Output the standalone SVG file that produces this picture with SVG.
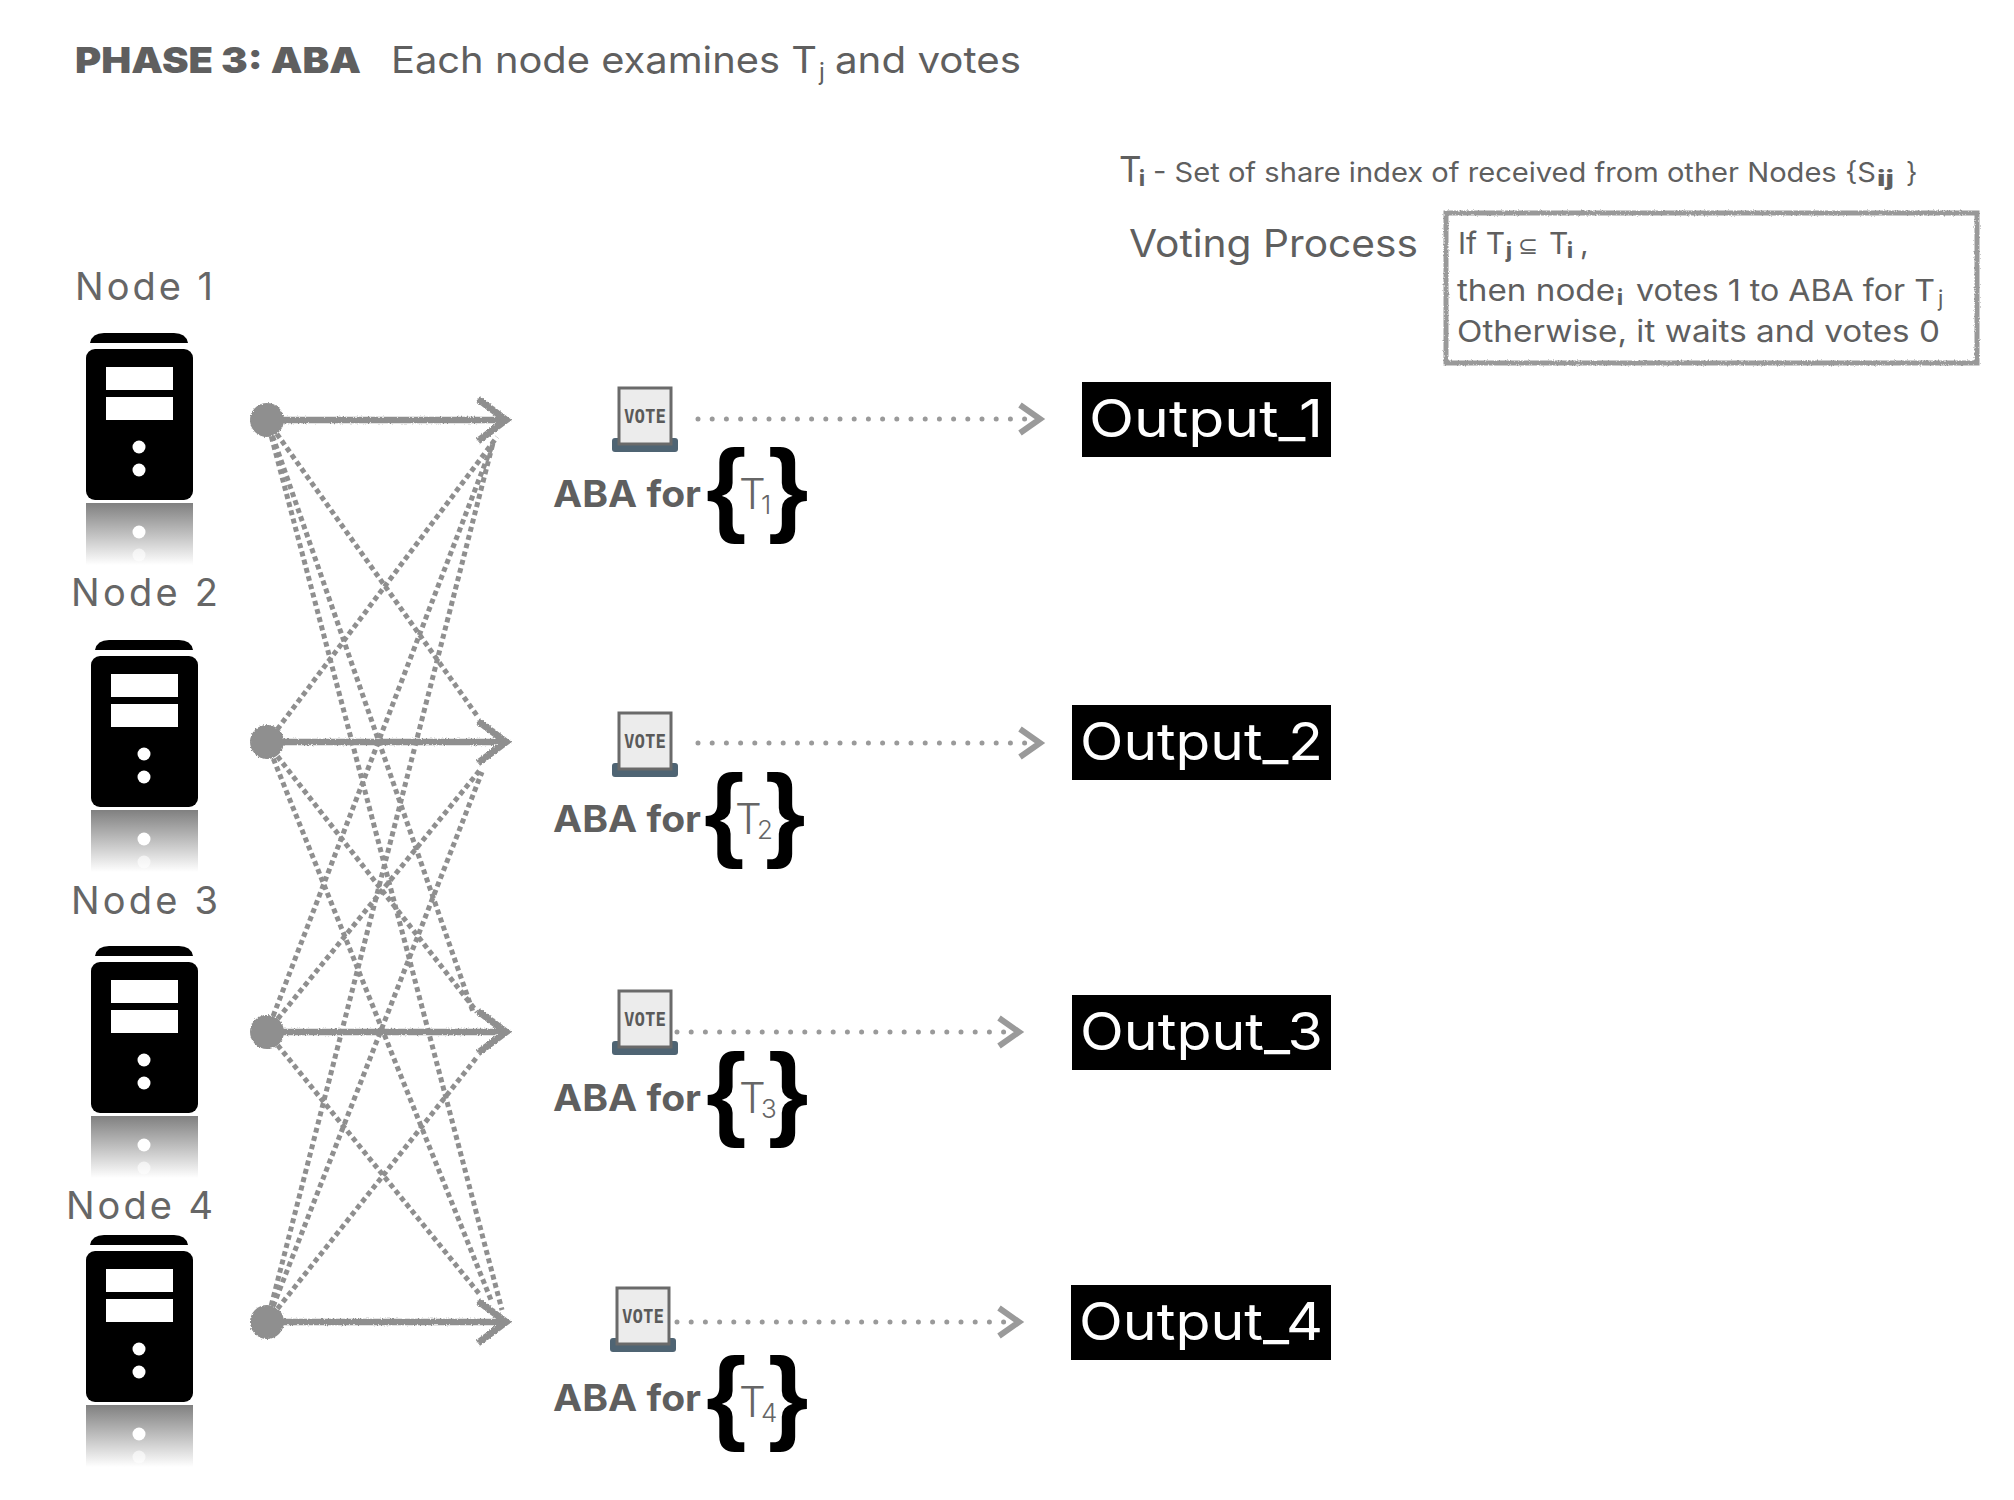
<svg xmlns="http://www.w3.org/2000/svg" width="2014" height="1500" viewBox="0 0 2014 1500">
<style>
text{font-family:"Inter","Liberation Sans",sans-serif;fill:#5f5f5f}
.nl{font-size:38px;fill:#666}
.aba{font-family:"Inter","Liberation Sans",sans-serif;font-size:37px;font-weight:700;fill:#5f5f5f}
.br{font-family:"Liberation Sans",sans-serif;font-size:104px;font-weight:700;fill:#000}
.tt{font-size:42px;fill:#666;font-weight:300}
.ts{font-size:26px;fill:#666;font-weight:300}
.out{font-size:52px;fill:#fff}
.bx{font-size:30px}
.sb{font-size:21px;font-weight:800}
.sl{font-size:22px}
.d{fill:none;stroke:#8f8f8f;stroke-width:5;stroke-dasharray:5 3.5}
.s{fill:none;stroke:#8f8f8f;stroke-width:6.5;filter:url(#rough)}
.hd{fill:none;stroke:#8f8f8f;stroke-width:7;filter:url(#rough)}
.o{fill:none;stroke:#9a9a9a;stroke-width:5;stroke-dasharray:0 14.2;stroke-linecap:round}
.h{fill:none;stroke:#9a9a9a;stroke-width:6}
.dot{fill:#8f8f8f;filter:url(#rough)}
</style>
<defs>
<filter id="rough" x="0" y="0" width="2014" height="1500" filterUnits="userSpaceOnUse">
<feTurbulence type="fractalNoise" baseFrequency="0.7" numOctaves="2" seed="3"/>
<feDisplacementMap in="SourceGraphic" scale="3" xChannelSelector="R" yChannelSelector="G"/>
</filter>
<linearGradient id="refl" x1="0" y1="0" x2="0" y2="1"><stop offset="0" stop-color="#808080"/><stop offset="1" stop-color="#fff"/></linearGradient>
<g id="server">
<path d="M90 343q2-10 14-10h70q12 0 14 10z" fill="#000"/>
<rect x="86" y="349" width="107" height="151" rx="9" fill="#000"/>
<rect x="106" y="367" width="67" height="23" fill="#fff"/>
<rect x="106" y="397" width="67" height="23" fill="#fff"/>
<circle cx="139" cy="447" r="6.5" fill="#fff"/>
<circle cx="139" cy="470" r="6.5" fill="#fff"/>
<rect x="86" y="503" width="107" height="62" fill="url(#refl)"/>
<circle cx="139" cy="532" r="6.5" fill="#fff"/>
<circle cx="139" cy="555" r="6.5" fill="#fff" opacity=".6"/>
</g>
<g id="vote">
<rect x="612" y="438" width="66" height="14" rx="3" fill="#4f6473"/>
<rect x="619" y="388" width="52" height="56" fill="#ececec" stroke="#6a6a6a" stroke-width="3"/>
<text x="624" y="423" textLength="42" lengthAdjust="spacingAndGlyphs" style="font-family:'DejaVu Sans Mono',monospace;font-size:19px;font-weight:700;fill:#5a5a5a">VOTE</text>
</g>
<path id="head" d="M478 399L506 420L478 441"/>
<path id="shd" d="M-20-14L0 0L-20 14"/>
</defs>
<rect width="2014" height="1500" fill="#fff"/>

<g id="title">
<text x="75" y="73" textLength="286" lengthAdjust="spacingAndGlyphs" style="font-size:36px;font-weight:900">PHASE 3: ABA</text>
<text x="391" y="73" textLength="426" lengthAdjust="spacingAndGlyphs" style="font-size:37px">Each node examines T</text>
<text x="819" y="80" style="font-size:24px">j</text>
<text x="835" y="73" textLength="186" lengthAdjust="spacingAndGlyphs" style="font-size:37px">and votes</text>
</g>

<g id="connectors">
<g id="cross">
<path class="d" d="M267 420L478 717"/>
<path class="d" d="M267 420L473 1012"/>
<path class="d" d="M267 420L502 1310"/>
<path class="d" d="M267 743L497 437"/>
<path class="d" d="M267 743L477 1012"/>
<path class="d" d="M267 743L491 1300"/>
<path class="d" d="M267 1032L493 443"/>
<path class="d" d="M267 1032L480 770"/>
<path class="d" d="M267 1032L481 1296"/>
<path class="d" d="M267 1322L493 443"/>
<path class="d" d="M267 1322L482 772"/>
<path class="d" d="M267 1322L477 1057"/>
</g>
<path class="s" d="M267 420H503"/><use href="#head" class="hd"/>
<path class="s" d="M267 742H503"/><use href="#head" y="322" class="hd"/>
<path class="s" d="M267 1032H503"/><use href="#head" y="612" class="hd"/>
<path class="s" d="M267 1322H503"/><use href="#head" y="902" class="hd"/>
<path class="o" d="M698 419H1030"/><use href="#shd" x="1040" y="419" class="h"/>
<path class="o" d="M698 743H1030"/><use href="#shd" x="1040" y="743" class="h"/>
<path class="o" d="M677 1032H1010"/><use href="#shd" x="1019" y="1032" class="h"/>
<path class="o" d="M677 1322H1010"/><use href="#shd" x="1019" y="1322" class="h"/>
</g>

<g id="node-1"><text class="nl" x="75" y="300" textLength="138" lengthAdjust="spacing">Node 1</text><use href="#server"/><circle class="dot" cx="267" cy="420" r="17"/></g>
<g id="node-2"><text class="nl" x="71" y="606" textLength="147" lengthAdjust="spacing">Node 2</text><use href="#server" x="5" y="307"/><circle class="dot" cx="267" cy="742" r="17"/></g>
<g id="node-3"><text class="nl" x="71" y="914" textLength="147" lengthAdjust="spacing">Node 3</text><use href="#server" x="5" y="613"/><circle class="dot" cx="267" cy="1032" r="17"/></g>
<g id="node-4"><text class="nl" x="66" y="1219" textLength="147" lengthAdjust="spacing">Node 4</text><use href="#server" y="902"/><circle class="dot" cx="267" cy="1322" r="17"/></g>

<g id="aba-1"><use href="#vote"/><text class="aba" x="553" y="507" textLength="148" lengthAdjust="spacingAndGlyphs">ABA for</text><text class="br" x="706" y="522">{</text><text class="br" x="768" y="522">}</text><text class="tt" x="739" y="509">T</text><text class="ts" x="761" y="514">1</text></g>
<g id="aba-2"><use href="#vote" y="325"/><text class="aba" x="553" y="832" textLength="148" lengthAdjust="spacingAndGlyphs">ABA for</text><text class="br" x="704" y="847">{</text><text class="br" x="765" y="847">}</text><text class="tt" x="735" y="834">T</text><text class="ts" x="757" y="839">2</text></g>
<g id="aba-3"><use href="#vote" y="603"/><text class="aba" x="553" y="1111" textLength="148" lengthAdjust="spacingAndGlyphs">ABA for</text><text class="br" x="706" y="1126">{</text><text class="br" x="768" y="1126">}</text><text class="tt" x="739" y="1113">T</text><text class="ts" x="761" y="1118">3</text></g>
<g id="aba-4"><use href="#vote" x="-2" y="900"/><text class="aba" x="553" y="1411" textLength="148" lengthAdjust="spacingAndGlyphs">ABA for</text><text class="br" x="706" y="1430">{</text><text class="br" x="768" y="1430">}</text><text class="tt" x="739" y="1417">T</text><text class="ts" x="761" y="1422">4</text></g>

<g id="output-1"><rect x="1082" y="382" width="249" height="75" fill="#000"/><text class="out" x="1089" y="437" textLength="234" lengthAdjust="spacingAndGlyphs">Output_1</text></g>
<g id="output-2"><rect x="1072" y="705" width="259" height="75" fill="#000"/><text class="out" x="1080" y="760" textLength="243" lengthAdjust="spacingAndGlyphs">Output_2</text></g>
<g id="output-3"><rect x="1072" y="995" width="259" height="75" fill="#000"/><text class="out" x="1080" y="1050" textLength="243" lengthAdjust="spacingAndGlyphs">Output_3</text></g>
<g id="output-4"><rect x="1071" y="1285" width="260" height="75" fill="#000"/><text class="out" x="1079" y="1340" textLength="244" lengthAdjust="spacingAndGlyphs">Output_4</text></g>

<g id="legend">
<text x="1119" y="182" style="font-size:35px">T</text>
<text class="sb" x="1139" y="186">i</text>
<text x="1153" y="182" textLength="723" lengthAdjust="spacingAndGlyphs" style="font-size:27px">- Set of share index of received from other Nodes {S</text>
<text class="sb" x="1877" y="186" textLength="17" lengthAdjust="spacingAndGlyphs">ij</text>
<text x="1906" y="182" style="font-size:27px">}</text>
<text x="1129" y="257" textLength="289" lengthAdjust="spacingAndGlyphs" style="font-size:38px">Voting Process</text>
</g>
<g id="voting-box">
<rect x="1446" y="213" width="531" height="150" fill="#fff" stroke="#999" stroke-width="5" filter="url(#rough)"/>
<text class="bx" x="1458" y="254" textLength="47" lengthAdjust="spacing">If T</text>
<text class="sb" x="1506" y="258">j</text>
<text class="bx" x="1518" y="254" style="font-family:'DejaVu Sans',sans-serif;font-size:24px">⊆</text>
<text class="bx" x="1549" y="254">T</text>
<text class="sb" x="1567" y="258">i</text>
<text class="bx" x="1580" y="254">,</text>
<text class="bx" x="1457" y="301" textLength="158" lengthAdjust="spacingAndGlyphs">then node</text>
<text class="sb" x="1617" y="305">i</text>
<text class="bx" x="1636" y="301" textLength="299" lengthAdjust="spacingAndGlyphs">votes 1 to ABA for T</text>
<text class="sl" x="1938" y="306">j</text>
<text class="bx" x="1457" y="342" textLength="483" lengthAdjust="spacingAndGlyphs">Otherwise, it waits and votes 0</text>
</g>
</svg>
